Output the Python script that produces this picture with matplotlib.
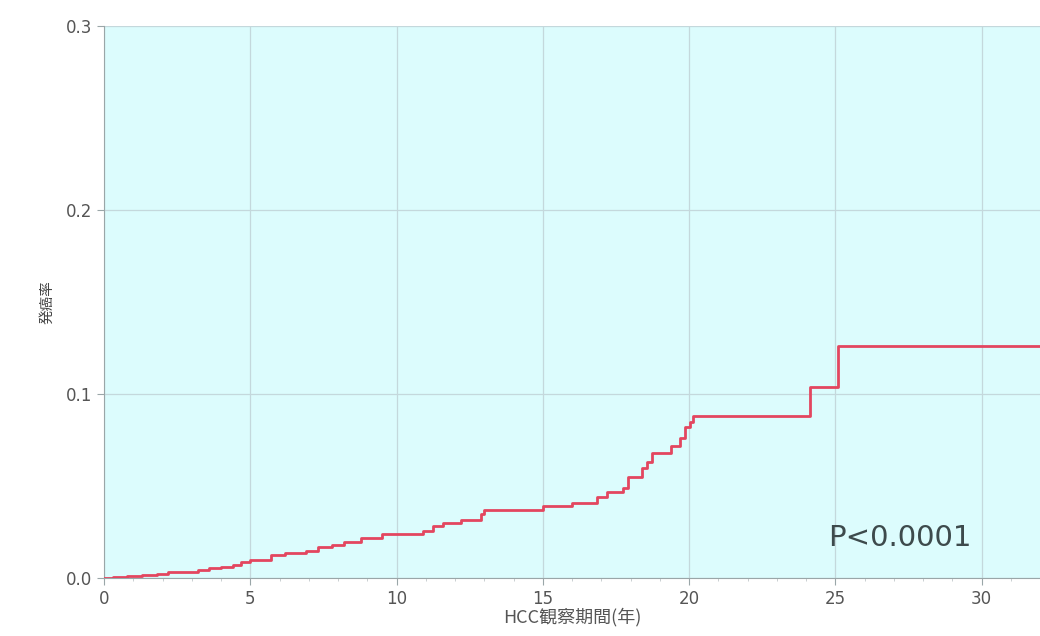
import matplotlib
matplotlib.use("Agg")
import matplotlib.pyplot as plt
from matplotlib.ticker import MultipleLocator

plt.rcParams['font.family'] = ['DejaVu Sans', 'Noto Sans CJK JP']

# step times (years) and cumulative incidence
years = [0, 0.3, 0.8, 1.3, 1.8, 2.2, 2.7, 3.2, 3.6, 4.0, 4.4, 4.7, 5.0,
         5.7, 6.2, 6.9, 7.3, 7.8, 8.2, 8.8, 9.5, 10.9, 11.25, 11.6, 12.2,
         12.9, 13.0, 15.0, 16.0, 16.85, 17.2, 17.75, 17.9, 18.4, 18.55,
         18.75, 19.4, 19.7, 19.85, 20.05, 20.15, 24.15, 25.1, 32.0]
incidence = [0, 0.0005, 0.001, 0.0015, 0.002, 0.003, 0.0035, 0.0045, 0.0055,
             0.006, 0.007, 0.0085, 0.0098, 0.0125, 0.0135, 0.0145, 0.017,
             0.018, 0.0195, 0.022, 0.024, 0.0255, 0.028, 0.030, 0.0315,
             0.035, 0.037, 0.039, 0.041, 0.044, 0.047, 0.049, 0.055, 0.060,
             0.063, 0.068, 0.072, 0.076, 0.082, 0.085, 0.088, 0.104, 0.126,
             0.126]

x_ticks = [0, 5, 10, 15, 20, 25, 30]
y_ticks = [0.0, 0.1, 0.2, 0.3]

fig = plt.figure(figsize=(10.4, 6.36), dpi=100)
ax = fig.add_axes([0.1, 0.0912, 0.9, 0.868])
ax.set_facecolor("#dcfcfd")

ax.step(years, incidence, where="post", color="#e3465f", linewidth=2.0, zorder=3)

ax.set_xlim(0, 32)
ax.set_ylim(0, 0.3)
ax.set_xticks(x_ticks)
ax.set_yticks(y_ticks)
ax.set_yticklabels([f"{v:.1f}" for v in y_ticks])
ax.xaxis.set_minor_locator(MultipleLocator(1))
ax.grid(True, color="#c4d8dc", linewidth=0.9)
ax.tick_params(axis="both", which="major", labelsize=12, colors="#9aa6a8",
               labelcolor="#555555", length=5)
ax.tick_params(axis="both", which="minor", length=2, colors="#c0c8ca")

for side in ["top", "right"]:
    ax.spines[side].set_visible(False)
for side in ["left", "bottom"]:
    ax.spines[side].set_color("#9aa6a8")

ax.set_xlabel("HCC観察期間(年)", fontsize=13, color="#555555", labelpad=0,
              family=["Noto Sans CJK JP"])
ax.set_ylabel("発癌率", fontsize=10.5, color="#444444", labelpad=8,
              family=["Noto Sans CJK JP"])

ax.text(24.75, 0.0215, "P<0.0001", fontsize=21, color="#3d4a4c",
        va="center", ha="left", family=["DejaVu Sans"])

plt.savefig("out.png", dpi=100)
plt.close()
